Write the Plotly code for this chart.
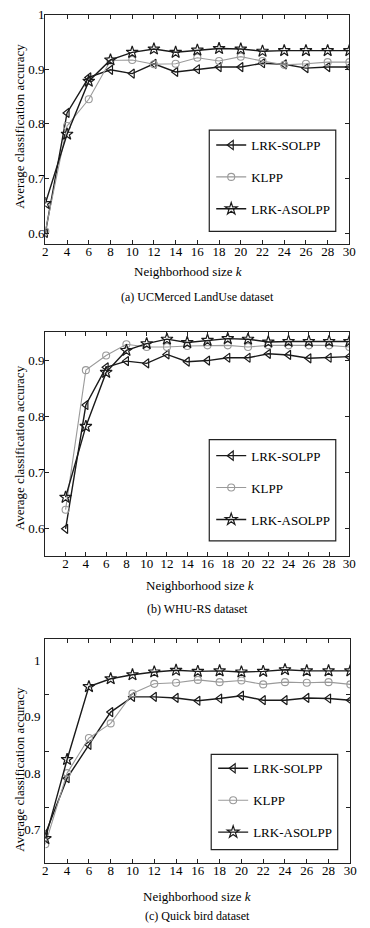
import plotly.graph_objects as go

W, H = 370, 928

k = [2, 4, 6, 8, 10, 12, 14, 16, 18, 20, 22, 24, 26, 28, 30]
series_names = ["LRK-SOLPP", "KLPP", "LRK-ASOLPP"]

# (a) UCMerced LandUse
a_solpp = [0.600, 0.820, 0.885, 0.899, 0.892, 0.910, 0.895, 0.900, 0.904, 0.904, 0.911, 0.909, 0.902, 0.904, 0.904]
a_klpp = [0.603, 0.796, 0.845, 0.916, 0.917, 0.909, 0.910, 0.921, 0.915, 0.923, 0.915, 0.908, 0.910, 0.913, 0.913]
a_asolpp = [0.654, 0.781, 0.878, 0.917, 0.931, 0.937, 0.931, 0.935, 0.938, 0.937, 0.933, 0.934, 0.934, 0.934, 0.934]

# (b) WHU-RS
b_solpp = [0.600, 0.820, 0.887, 0.898, 0.894, 0.910, 0.897, 0.899, 0.904, 0.904, 0.911, 0.909, 0.903, 0.904, 0.906]
b_klpp = [0.634, 0.882, 0.908, 0.928, 0.923, 0.923, 0.925, 0.926, 0.926, 0.923, 0.926, 0.926, 0.926, 0.926, 0.923]
b_asolpp = [0.656, 0.782, 0.878, 0.917, 0.929, 0.937, 0.931, 0.935, 0.938, 0.937, 0.932, 0.933, 0.933, 0.933, 0.933]

# (c) Quick bird
c_solpp = [0.692, 0.791, 0.850, 0.908, 0.935, 0.935, 0.933, 0.928, 0.932, 0.937, 0.929, 0.929, 0.933, 0.932, 0.929]
c_klpp = [0.674, 0.800, 0.862, 0.888, 0.941, 0.958, 0.960, 0.965, 0.961, 0.964, 0.957, 0.961, 0.960, 0.961, 0.957]
c_asolpp = [0.684, 0.824, 0.953, 0.967, 0.974, 0.979, 0.982, 0.980, 0.981, 0.979, 0.980, 0.983, 0.981, 0.981, 0.981]

x_ticks = [2, 4, 6, 8, 10, 12, 14, 16, 18, 20, 22, 24, 26, 28, 30]
y_ticks_a = [0.6, 0.7, 0.8, 0.9, 1.0]
y_ticklabels_a = ["0.6", "0.7", "0.8", "0.9", "1"]
y_ticks_b = [0.6, 0.7, 0.8, 0.9]
y_ticklabels_b = ["0.6", "0.7", "0.8", "0.9"]
y_ticks_c = [0.7, 0.8, 0.9, 1.0]
y_ticklabels_c = ["0.7", "0.8", "0.9", "1"]
y_minor_c = [0.739, 0.839, 0.939]

captions = ["(a) UCMerced LandUse dataset", "(b) WHU-RS dataset", "(c) Quick bird dataset"]
x_title = "Neighborhood size <i>k</i>"
y_title = "Average classification accuracy"

FONT = "Liberation Serif"

styles = [
    dict(color="#1a1a1a", lw=1.4, symbol="triangle-left-open", size=8, mlw=1.2),
    dict(color="#9a9a9a", lw=1.1, symbol="circle-open", size=7, mlw=1.1),
    dict(color="#1a1a1a", lw=1.4, symbol="star-open", size=9, mlw=1.2),
]

panels = [
    dict(data=[a_solpp, a_klpp, a_asolpp], top=7.7, bottom=239, left=43.5, right=356,
         xr=[2, 30], yr=[0.5795, 1.0], yt=y_ticks_a, ytl=y_ticklabels_a,
         leg=(214, 124, 212, 124, 342, 226), xt_x=190, xt_y=267, cap_y=292, yt_y=120),
    dict(data=[b_solpp, b_klpp, b_asolpp], top=327, bottom=553, left=43.5, right=356,
         xr=[0, 30], yr=[0.552, 0.9506], yt=y_ticks_b, ytl=y_ticklabels_b,
         leg=(214, 437, 212, 436, 342, 538), xt_x=202, xt_y=583, cap_y=607, yt_y=444),
    dict(data=[c_solpp, c_klpp, c_asolpp], top=637, bottom=863, left=43.5, right=357,
         xr=[2, 30], yr=[0.640, 1.037], yt=y_ticks_c, ytl=y_ticklabels_c,
         leg=(216, 752, 214, 753, 344, 849), xt_x=199, xt_y=896, cap_y=916, yt_y=768),
]

fig = go.Figure()
layout = dict(
    width=W, height=H, margin=dict(l=0, r=0, t=0, b=0),
    paper_bgcolor="white", plot_bgcolor="white",
    font=dict(family=FONT, size=13, color="black"),
    showlegend=True,
)
annotations = []
shapes = []

for i, p in enumerate(panels):
    sfx = "" if i == 0 else str(i + 1)
    xa, ya = "x" + sfx, "y" + sfx
    legname = "legend" + sfx
    for j, (vals, st) in enumerate(zip(p["data"], styles)):
        fig.add_trace(go.Scatter(
            x=k, y=vals, xaxis=xa, yaxis=ya, name=series_names[j],
            mode="lines+markers", legend=legname, legendgroup=f"g{i}{j}",
            line=dict(color=st["color"], width=st["lw"]),
            marker=dict(symbol=st["symbol"], size=st["size"], color=st["color"],
                        line=dict(width=st["mlw"], color=st["color"])),
        ))
    axis_common = dict(showline=True, linecolor="#222", linewidth=1.2, mirror="ticks",
                       ticks="inside", ticklen=4, tickwidth=1, tickcolor="#222",
                       showgrid=False, zeroline=False,
                       tickfont=dict(family=FONT, size=13, color="black"))
    layout["xaxis" + sfx] = dict(
        axis_common, domain=[p["left"] / W, p["right"] / W], range=p["xr"],
        tickmode="array", tickvals=x_ticks, ticktext=[str(t) for t in x_ticks],
        anchor=ya, ticklabelstandoff=-5,
    )
    yax = dict(
        axis_common, domain=[1 - p["bottom"] / H, 1 - p["top"] / H], range=p["yr"],
        tickmode="array", tickvals=p["yt"], ticktext=p["ytl"], anchor=xa,
        ticklabelstandoff=-3,
    )
    if i == 2:
        yax["ticks"] = ""
        yax["minor"] = dict(tickmode="array", tickvals=y_minor_c, ticks="inside",
                            ticklen=4, tickwidth=1, tickcolor="#222", showgrid=False)
        yax["ticklabelstandoff"] = 1
    layout["yaxis" + sfx] = yax

    lx, ly, bx0, by0, bx1, by1 = p["leg"]
    layout[legname] = dict(
        x=lx / W, y=1 - ly / H, xanchor="left", yanchor="top",
        xref="paper", yref="paper",
        bgcolor="rgba(0,0,0,0)", borderwidth=0,
        font=dict(family=FONT, size=13, color="black"),
        tracegroupgap=12, itemwidth=30,
    )
    shapes.append(dict(type="rect", xref="paper", yref="paper",
                       x0=bx0 / W, x1=bx1 / W, y0=1 - by1 / H, y1=1 - by0 / H,
                       line=dict(color="#222", width=1.2), fillcolor="rgba(0,0,0,0)"))
    annotations.append(dict(text=x_title, x=p["xt_x"] / W, y=1 - p["xt_y"] / H,
                            xref="paper", yref="paper", showarrow=False,
                            xanchor="center", yanchor="middle",
                            font=dict(family=FONT, size=13, color="black")))
    annotations.append(dict(text=captions[i], x=200 / W, y=1 - p["cap_y"] / H,
                            xref="paper", yref="paper", showarrow=False,
                            xanchor="center", yanchor="middle",
                            font=dict(family=FONT, size=12, color="black")))
    annotations.append(dict(text=y_title, x=17 / W, y=1 - p["yt_y"] / H,
                            xref="paper", yref="paper", showarrow=False, textangle=-90,
                            xanchor="center", yanchor="middle",
                            font=dict(family=FONT, size=13, color="black")))

layout["annotations"] = annotations
layout["shapes"] = shapes
fig.update_layout(**layout)
fig.write_html("out.html", config={"displayModeBar": False})

# remove the default page margin so the figure fills the window exactly
with open("out.html", "r", encoding="utf-8") as f:
    html = f.read()
html = html.replace("<head>", "<head><style>html,body{margin:0;padding:0;overflow:hidden;}</style>", 1)
with open("out.html", "w", encoding="utf-8") as f:
    f.write(html)
